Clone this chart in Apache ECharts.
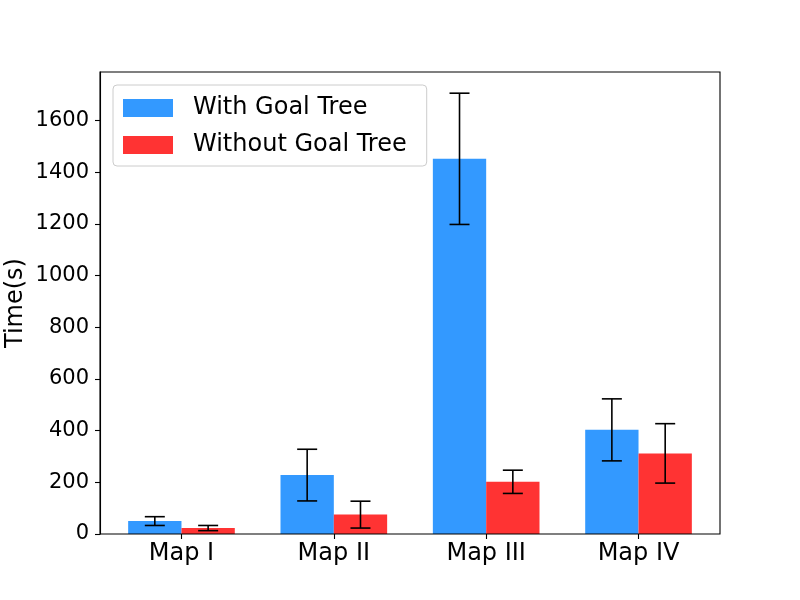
<!DOCTYPE html>
<html>
<head>
<meta charset="utf-8">
<script src="https://cdn.jsdelivr.net/npm/echarts@6/dist/echarts.min.js"></script>
<style>html,body{margin:0;padding:0;background:#fff}#c{width:800px;height:600px}</style>
</head>
<body>
<div id="c"></div>
<script>
const categories = ['Map I', 'Map II', 'Map III', 'Map IV'];
const withGoalMeans = [50, 228, 1452, 403];
const withGoalErr = [17, 100, 254, 120];
const withoutGoalMeans = [23, 75, 202, 312];
const withoutGoalErr = [10, 52, 45, 115];
const yTicks = [0, 200, 400, 600, 800, 1000, 1200, 1400, 1600];

const FONT = 'DejaVu Sans';
const Y_MAX = 1788;
const BAR_FRAC = 0.35;

function errData(means, errs, side) {
  return means.map((m, i) => [i, m - errs[i], m + errs[i], side]);
}

function renderErr(params, api) {
  const i = api.value(0);
  const lo = api.value(1);
  const hi = api.value(2);
  const side = api.value(3);
  const band = api.size([1, 0])[0];
  const bw = band * BAR_FRAC;
  const c0 = api.coord([i, lo]);
  const c1 = api.coord([i, hi]);
  const x = c0[0] + side * bw / 2;
  const cap = 10;
  const style = { stroke: '#000', lineWidth: 1.6 };
  return {
    type: 'group',
    children: [
      { type: 'line', shape: { x1: x, y1: c0[1], x2: x, y2: c1[1] }, style },
      { type: 'line', shape: { x1: x - cap, y1: c0[1], x2: x + cap, y2: c0[1] }, style },
      { type: 'line', shape: { x1: x - cap, y1: c1[1], x2: x + cap, y2: c1[1] }, style }
    ]
  };
}

const chart = echarts.init(document.getElementById('c'), null, { renderer: 'canvas' });
chart.setOption({
  backgroundColor: '#fff',
  animation: false,
  textStyle: { fontFamily: FONT },
  legend: {
    data: ['With Goal Tree', 'Without Goal Tree'],
    orient: 'vertical',
    left: 113,
    top: 85,
    itemWidth: 50,
    itemHeight: 18,
    itemGap: 13,
    padding: [11, 20, 9, 10],
    backgroundColor: 'rgba(255,255,255,0.8)',
    borderColor: '#cccccc',
    borderWidth: 1,
    borderRadius: 4,
    icon: 'rect',
    textStyle: { fontFamily: FONT, fontSize: 24, color: '#000', padding: [0, 0, 0, 15] }
  },
  grid: [
    { left: 100, right: 80, top: 72, bottom: 66, show: true, borderColor: '#000', borderWidth: 1.1, backgroundColor: 'transparent', z: 10, outerBoundsMode: 'none', containLabel: false },
    { left: 105.3, right: 85.3, top: 72, bottom: 66, outerBoundsMode: 'none', containLabel: false }
  ],
  xAxis: [
    { type: 'category', gridIndex: 0, data: categories, show: false },
    {
      type: 'category', gridIndex: 1, data: categories,
      axisLine: { show: false },
      axisTick: { show: true, alignWithLabel: true, length: 5, lineStyle: { color: '#000', width: 1.1 } },
      axisLabel: { fontFamily: FONT, fontSize: 24, color: '#000', margin: 8 },
      splitLine: { show: false }
    }
  ],
  yAxis: [
    {
      type: 'value', gridIndex: 0, min: 0, max: Y_MAX, interval: 200,
      name: 'Time(s)', nameLocation: 'middle', nameGap: 72, nameMoveOverlap: false,
      nameTextStyle: { fontFamily: FONT, fontSize: 24, color: '#000' },
      axisLine: { show: true, lineStyle: { color: '#000', width: 1.1 } },
      axisTick: { show: true, length: 5, lineStyle: { color: '#000', width: 1.1 } },
      axisLabel: {
        fontFamily: FONT, fontSize: 21, color: '#000', margin: 11, showMaxLabel: false,
        formatter: v => (yTicks.indexOf(v) >= 0 ? String(v) : '')
      },
      splitLine: { show: false }
    },
    { type: 'value', gridIndex: 1, min: 0, max: Y_MAX, show: false, splitLine: { show: false } }
  ],
  series: [
    {
      name: 'With Goal Tree', type: 'bar', xAxisIndex: 1, yAxisIndex: 1,
      data: withGoalMeans, barGap: '0%', barCategoryGap: '30%',
      itemStyle: { color: '#3399ff' }, z: 2
    },
    {
      name: 'Without Goal Tree', type: 'bar', xAxisIndex: 1, yAxisIndex: 1,
      data: withoutGoalMeans, barGap: '0%', barCategoryGap: '30%',
      itemStyle: { color: '#ff3333' }, z: 2
    },
    {
      name: 'errWith', type: 'custom', xAxisIndex: 1, yAxisIndex: 1,
      data: errData(withGoalMeans, withGoalErr, -1), renderItem: renderErr, z: 5, silent: true
    },
    {
      name: 'errWithout', type: 'custom', xAxisIndex: 1, yAxisIndex: 1,
      data: errData(withoutGoalMeans, withoutGoalErr, 1), renderItem: renderErr, z: 5, silent: true
    }
  ]
});
</script>
</body>
</html>
